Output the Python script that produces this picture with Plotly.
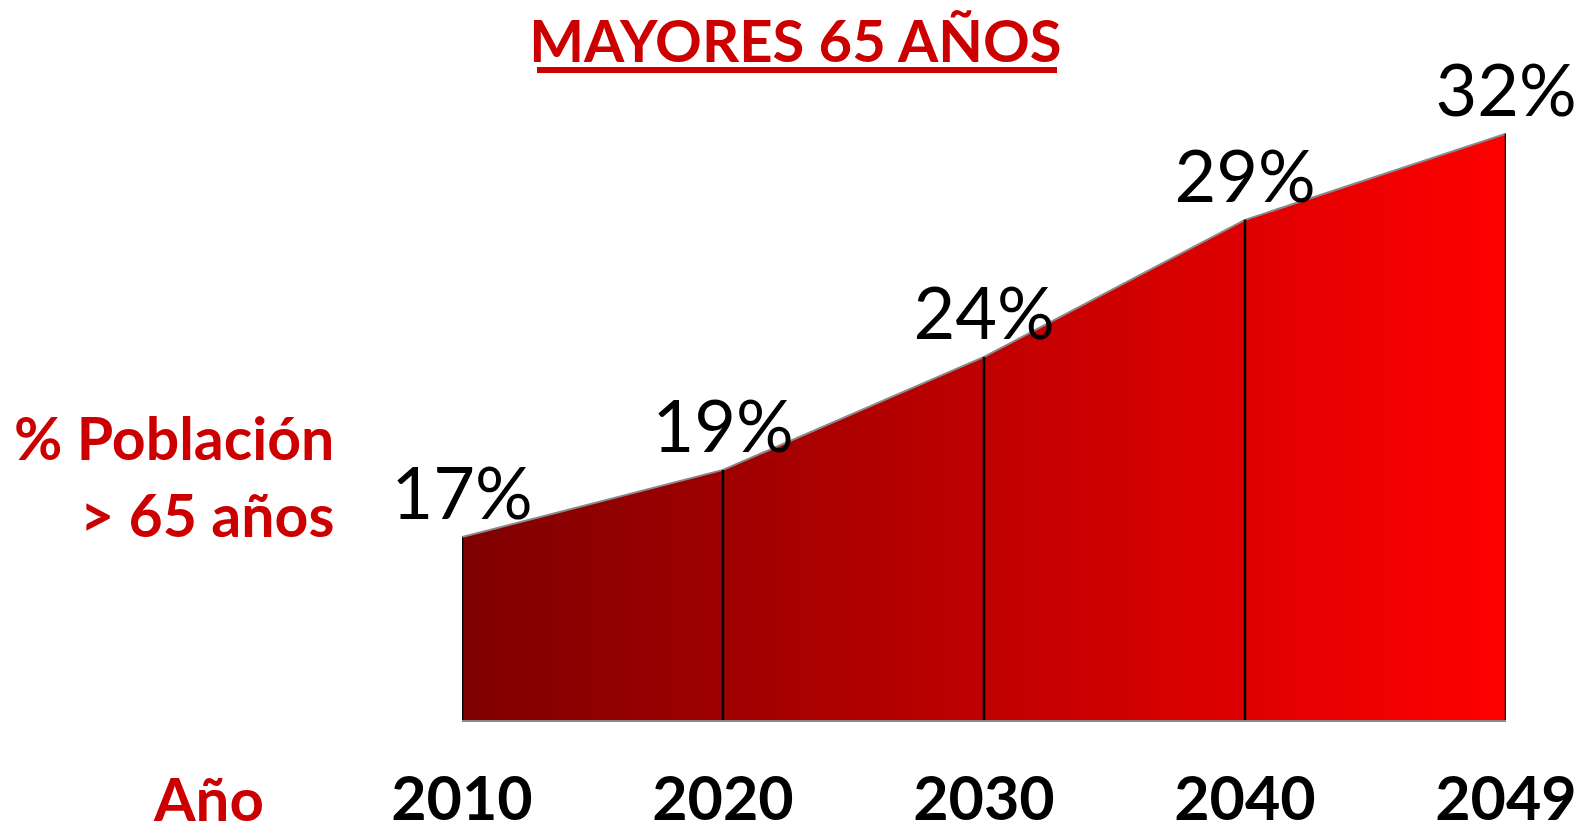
"""Mayores 65 años: area chart with horizontal red gradient."""
import plotly.graph_objects as go

years = ["2010", "2020", "2030", "2040", "2049"]
share = [17.0, 19.5, 23.7, 28.8, 32.0]
share_labels = ["17%", "19%", "24%", "29%", "32%"]

Y_MIN = 10.2
Y_MAX = 34.0
RED = "#CC0000"
FONT = "Lato"

fig = go.Figure()

# gradient area
fig.add_trace(go.Scatter(
    x=years, y=share, mode="lines", fill="tozeroy",
    line=dict(color="#8a8a8a", width=2),
    fillgradient=dict(type="horizontal",
                      colorscale=[[0, "#7f0000"], [1, "#ff0000"]]),
    hoverinfo="skip", showlegend=False,
))

# vertical black separators at each year
vx, vy = [], []
for yr, v in zip(years, share):
    vx += [yr, yr, None]
    vy += [Y_MIN, v, None]
fig.add_trace(go.Scatter(x=vx, y=vy, mode="lines",
                         line=dict(color="black", width=2.5),
                         hoverinfo="skip", showlegend=False))

# value labels
fig.add_trace(go.Scatter(
    x=years, y=share, mode="text", text=share_labels,
    textposition="top center",
    textfont=dict(family=FONT, size=72, color="black"),
    cliponaxis=False, hoverinfo="skip", showlegend=False,
))

fig.update_layout(
    width=1594, height=829,
    plot_bgcolor="white", paper_bgcolor="white",
    margin=dict(l=462, r=88, t=80, b=109),
    title=dict(text="<b>MAYORES 65 AÑOS</b>", x=0.499, xanchor="center",
               y=1 - 42 / 829, yanchor="middle",
               font=dict(family=FONT, size=58, color=RED)),
)
fig.update_xaxes(type="category", range=[0, 4], showgrid=False,
                 showline=True, linecolor="#8a8a8a", linewidth=2,
                 ticks="", ticklabelstandoff=25, automargin=False,
                 tickfont=dict(family=FONT, size=61, color="black", weight="bold"))
fig.update_yaxes(range=[Y_MIN, Y_MAX], visible=False, showgrid=False)

# title underline
fig.add_shape(type="line", xref="paper", yref="paper",
              x0=(537 - 462) / 1044, x1=(1057 - 462) / 1044,
              y0=(720 - 70) / 640, y1=(720 - 70) / 640,
              line=dict(color=RED, width=6))

fig.add_annotation(text="<b>% Población<br>> 65 años</b>", xref="paper", yref="paper",
                   x=(336 - 462) / 1044, y=(720 - 400) / 640,
                   xanchor="right", yanchor="top", align="right", showarrow=False,
                   font=dict(family=FONT, size=59, color=RED))
fig.add_annotation(text="<b>Año</b>", xref="paper", yref="paper",
                   x=(208 - 462) / 1044, y=(720 - 760) / 640,
                   xanchor="center", yanchor="top", showarrow=False,
                   font=dict(family=FONT, size=60, color=RED))

# drop the browser's default body margin so the figure sits at the page corner
fig.write_html("out.html", config={"displayModeBar": False},
               post_script="document.body.style.margin='0';")
